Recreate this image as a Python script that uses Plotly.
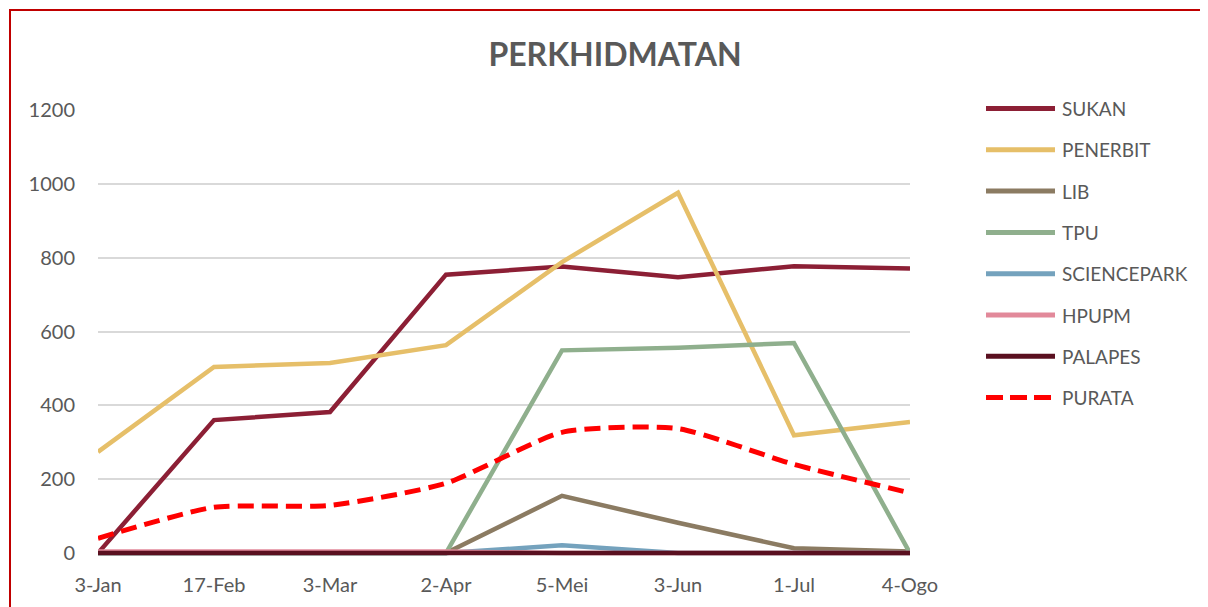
import plotly.graph_objects as go

# ---------------- data ----------------
categories = ["3-Jan", "17-Feb", "3-Mar", "2-Apr", "5-Mei", "3-Jun", "1-Jul", "4-Ogo"]

sukan       = [0, 360, 382, 754, 776, 747, 777, 771]
penerbit    = [274, 504, 515, 563, 788, 976, 319, 355]
lib         = [0, 0, 0, 0, 155, 82, 13, 4]
tpu         = [0, 0, 0, 0, 549, 556, 569, 0]
sciencepark = [0, 0, 0, 0, 21, 0, 0, 0]
hpupm       = [4, 4, 4, 4, 0, 0, 0, 0]
palapes     = [0, 0, 0, 0, 0, 0, 0, 0]
purata      = [40, 124, 129, 189, 327, 337, 240, 163]

series_names = ["SUKAN", "PENERBIT", "LIB", "TPU", "SCIENCEPARK", "HPUPM", "PALAPES", "PURATA"]
series_values = [sukan, penerbit, lib, tpu, sciencepark, hpupm, palapes, purata]
series_colors = ["#8C1F35", "#E6BF69", "#8B7B62", "#8FAF8D", "#74A2BD", "#E2899A", "#5A1020", "#FF0000"]

y_ticks = [0, 200, 400, 600, 800, 1000, 1200]

# ---------------- layout geometry (target screen pixels) ----------------
OFF = 8                    # browser body margin
W, H = 1208 - OFF, 607 - OFF
PL, PR = 98, 910           # plot area left / right (screen px)
PT, PB = 110, 556          # plot area top / bottom (screen px)
FONT = "Lato"
GREY = "#595959"


def px_x(px):
    return (px - PL) / (PR - PL)


def px_y(py):
    return (PB - py) / (PB - PT)


fig = go.Figure()

for name, vals, col in zip(series_names, series_values, series_colors):
    if name == "PURATA":
        fig.add_trace(go.Scatter(
            x=categories, y=vals, name=name, mode="lines",
            line=dict(color=col, width=5, dash="16px,8px", shape="spline", smoothing=0.6),
            showlegend=False, hoverinfo="x+y+name"))
    else:
        fig.add_trace(go.Scatter(
            x=categories, y=vals, name=name, mode="lines",
            line=dict(color=col, width=4.5),
            showlegend=False, hoverinfo="x+y+name"))

# ---------------- custom legend ----------------
shapes = []
annotations = []
leg_y0 = 108.5
leg_dy = 41.3
for i, (name, col) in enumerate(zip(series_names, series_colors)):
    yy = leg_y0 + i * leg_dy
    shapes.append(dict(
        type="line", xref="paper", yref="paper",
        x0=px_x(986), x1=px_x(1055), y0=px_y(yy), y1=px_y(yy),
        line=dict(color=col, width=5,
                  dash="17px,7px" if name == "PURATA" else "solid")))
    annotations.append(dict(
        text=name, xref="paper", yref="paper",
        x=px_x(1060), y=px_y(yy), xanchor="left", yanchor="middle",
        showarrow=False, font=dict(family=FONT, size=19, color=GREY)))

# chart frame (red border)
shapes.append(dict(
    type="rect", xref="paper", yref="paper",
    x0=px_x(10), x1=px_x(1240), y0=px_y(10), y1=px_y(650),
    line=dict(color="#C00000", width=2), fillcolor="rgba(0,0,0,0)", layer="above"))

fig.update_layout(
    width=W, height=H,
    margin=dict(l=PL - OFF, r=1208 - PR, t=PT - OFF, b=607 - PB, pad=0, autoexpand=False),
    paper_bgcolor="white", plot_bgcolor="white",
    title=dict(text="<b>PERKHIDMATAN</b>", x=(615 - OFF) / W, xref="container",
               y=1 - (54.5 - OFF) / H, yref="container", xanchor="center", yanchor="middle",
               font=dict(family=FONT, size=32, color=GREY)),
    font=dict(family=FONT, color=GREY),
    showlegend=False,
    shapes=shapes,
    annotations=annotations,
    xaxis=dict(type="category", categoryorder="array", categoryarray=categories,
               range=[0, len(categories) - 1], automargin=False,
               showgrid=False, zeroline=False, showline=False, ticks="",
               tickfont=dict(family=FONT, size=20, color=GREY),
               ticklabelstandoff=15),
    yaxis=dict(range=[-8, 1200], tickvals=y_ticks, ticktext=[str(v) for v in y_ticks],
               automargin=False,
               showgrid=True, gridcolor="#D9D9D9", gridwidth=1.5,
               zeroline=False, showline=False, ticks="",
               tickfont=dict(family=FONT, size=20, color=GREY),
               ticklabelstandoff=22),
)

fig.write_html("out.html")
